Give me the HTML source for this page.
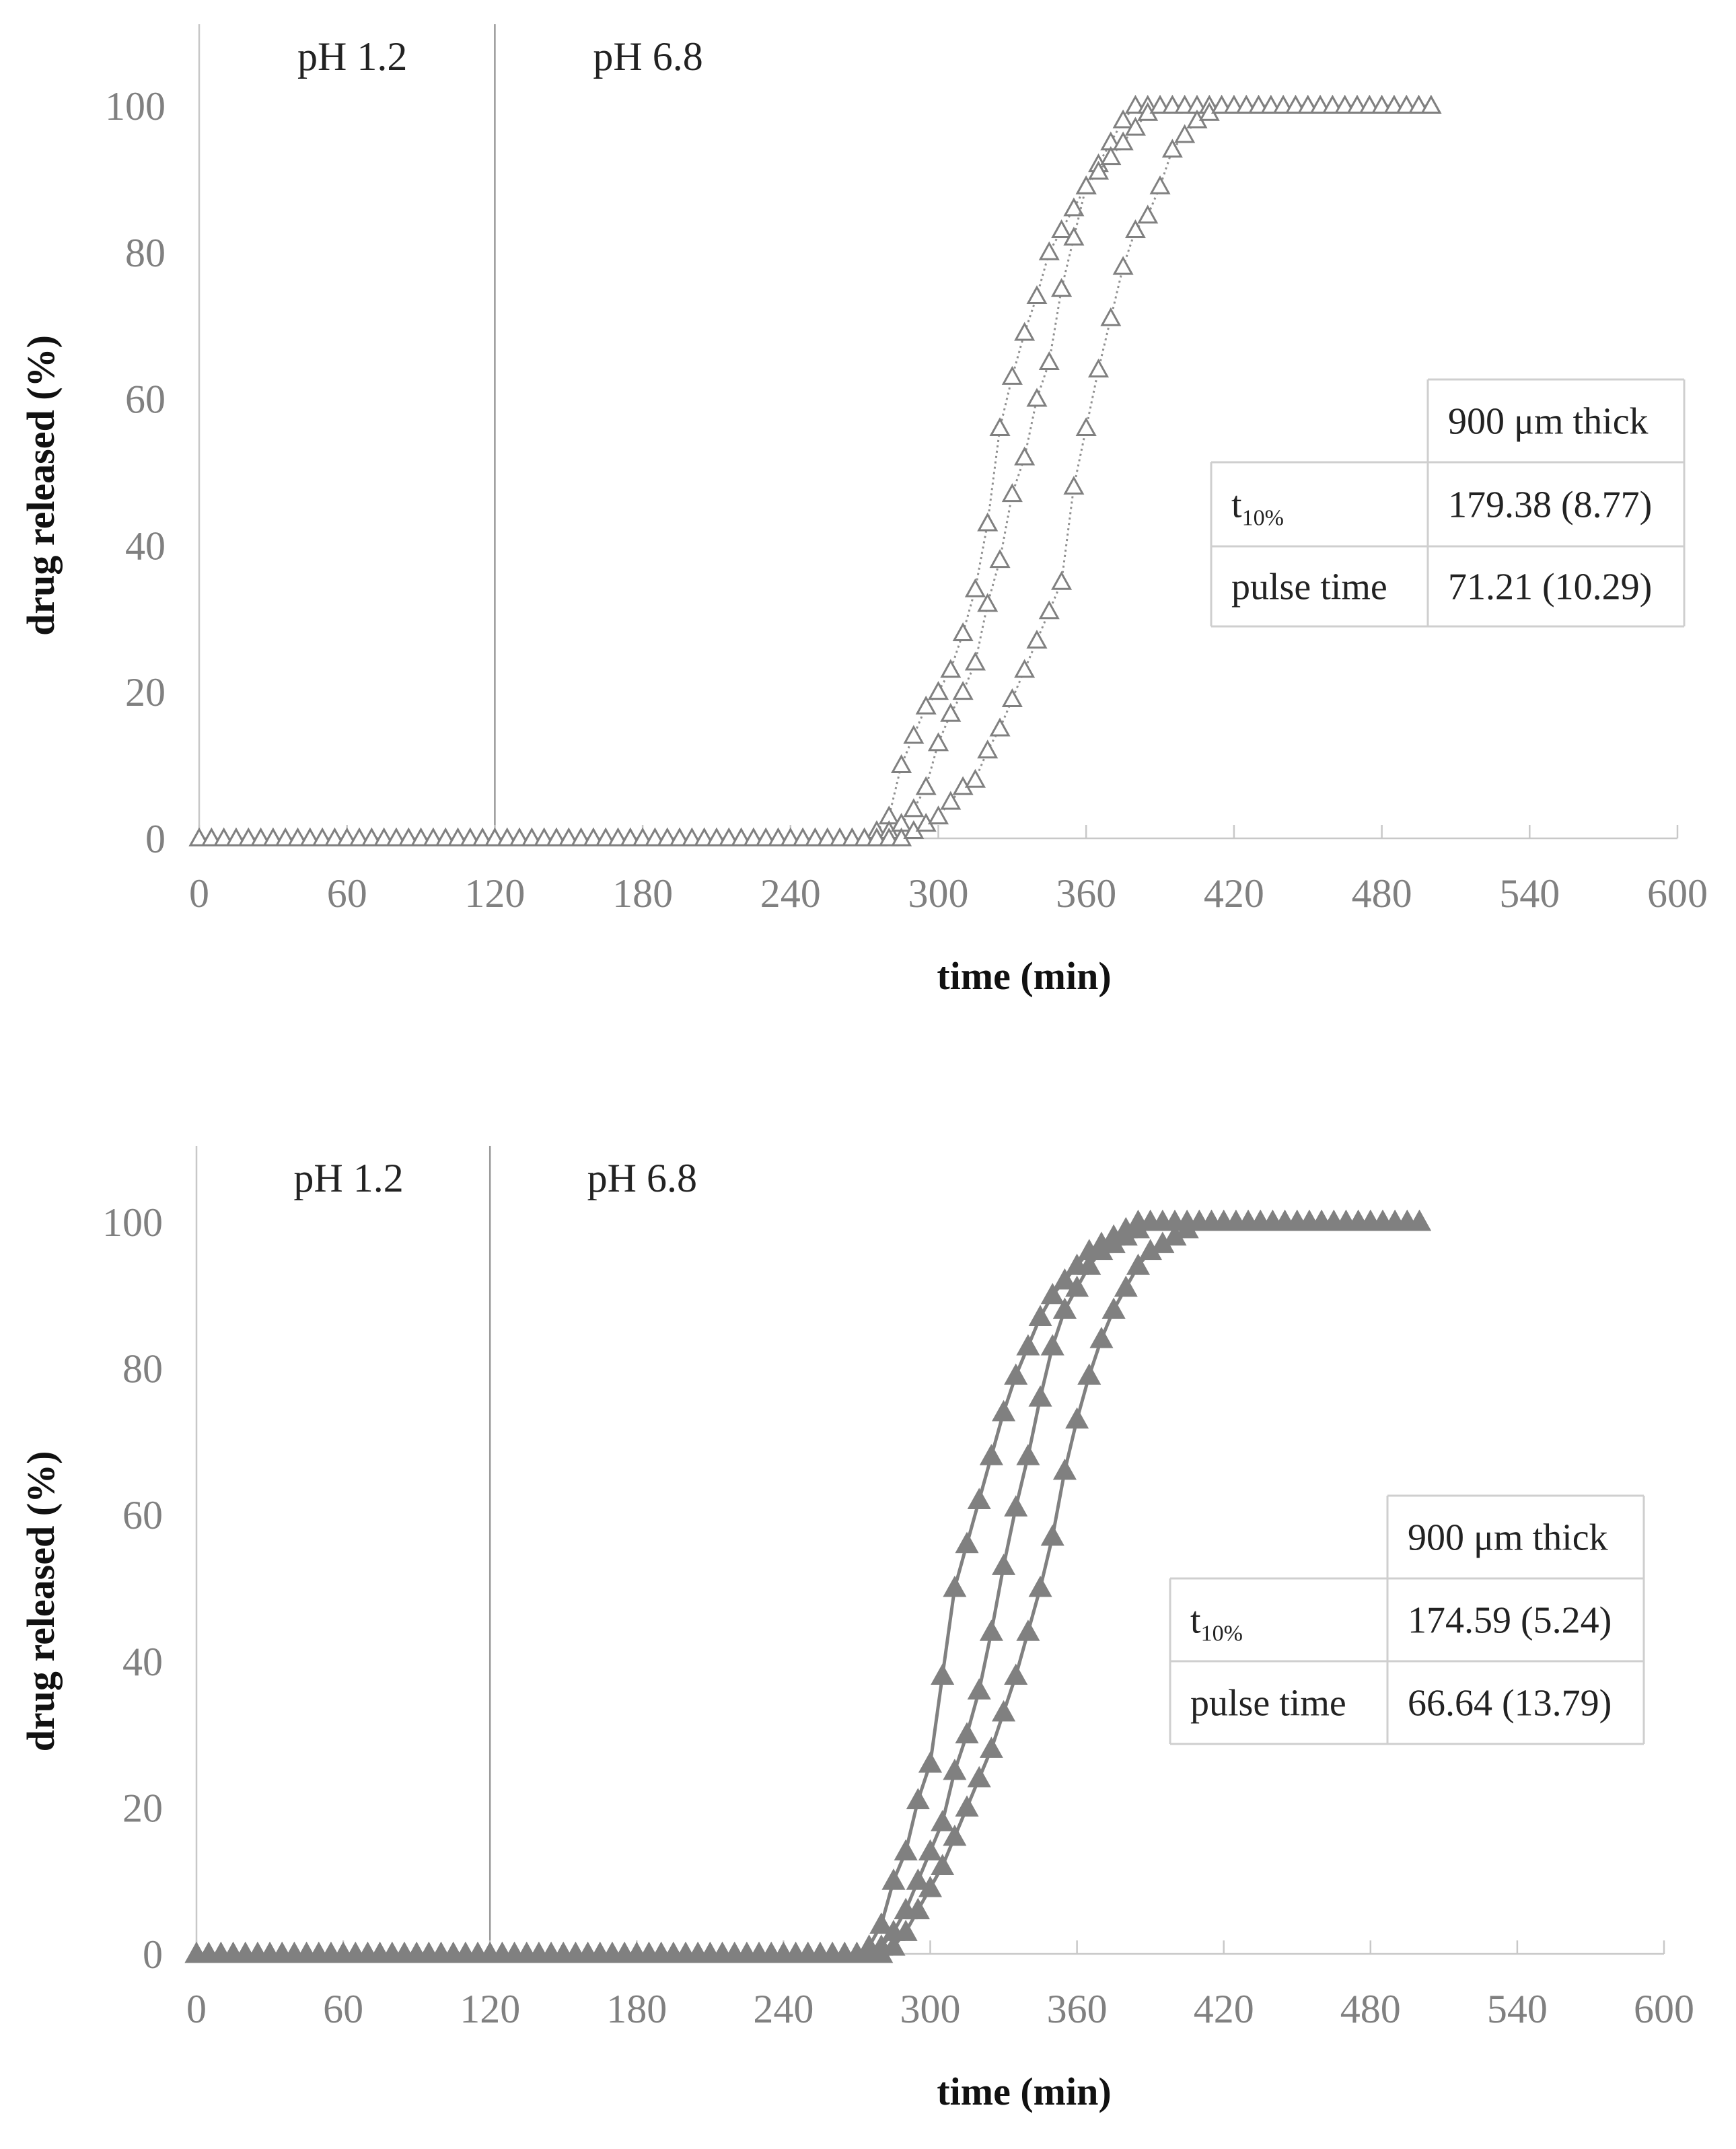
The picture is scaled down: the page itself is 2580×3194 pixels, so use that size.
<!DOCTYPE html>
<html><head><meta charset="utf-8"><style>
html,body{margin:0;padding:0;background:#fff;}
svg text{font-family:"Liberation Serif",serif;}
</style></head><body>
<svg id="svg" width="2580" height="3189" viewBox="0 0 2580 3189" xmlns="http://www.w3.org/2000/svg"></svg>
<script>
const xTicks=[0,60,120,180,240,300,360,420,480,540,600];
const yTicks=[0,20,40,60,80,100];
const topA=[0,0,0,0,0,0,0,0,0,0,0,0,0,0,0,0,0,0,0,0,0,0,0,0,0,0,0,0,0,0,0,0,0,0,0,0,0,0,0,0,0,0,0,0,0,0,0,0,0,0,0,0,0,0,
0,1,3,10,14,18,20,23,28,34,43,56,63,69,74,80,83,86,89,92,95,98,100,
100,100,100,100,100,100,100,100,100,100,100,100,100,100,100,100,100,100,100,100,100,100,100,100];
const topB=[0,0,0,0,0,0,0,0,0,0,0,0,0,0,0,0,0,0,0,0,0,0,0,0,0,0,0,0,0,0,0,0,0,0,0,0,0,0,0,0,0,0,0,0,0,0,0,0,0,0,0,0,0,0,
0,0,1,2,4,7,13,17,20,24,32,38,47,52,60,65,75,82,89,91,93,95,97,99,100,
100,100,100,100,100,100,100,100,100,100,100,100,100,100,100,100,100,100,100,100,100,100];
const topC=[0,0,0,0,0,0,0,0,0,0,0,0,0,0,0,0,0,0,0,0,0,0,0,0,0,0,0,0,0,0,0,0,0,0,0,0,0,0,0,0,0,0,0,0,0,0,0,0,0,0,0,0,0,0,
0,0,0,0,1,2,3,5,7,8,12,15,19,23,27,31,35,48,56,64,71,78,83,85,89,94,96,98,99,100,
100,100,100,100,100,100,100,100,100,100,100,100,100,100,100,100,100];
const botA=[0,0,0,0,0,0,0,0,0,0,0,0,0,0,0,0,0,0,0,0,0,0,0,0,0,0,0,0,0,0,0,0,0,0,0,0,0,0,0,0,0,0,0,0,0,0,0,0,0,0,0,0,0,0,
0,1,4,10,14,21,26,38,50,56,62,68,74,79,83,87,90,92,94,96,97,98,99,100,
100,100,100,100,100,100,100,100,100,100,100,100,100,100,100,100,100,100,100,100,100,100,100];
const botB=[0,0,0,0,0,0,0,0,0,0,0,0,0,0,0,0,0,0,0,0,0,0,0,0,0,0,0,0,0,0,0,0,0,0,0,0,0,0,0,0,0,0,0,0,0,0,0,0,0,0,0,0,0,0,
0,0,1,3,6,10,14,18,25,30,36,44,53,61,68,76,83,88,91,94,96,97,98,99,100,
100,100,100,100,100,100,100,100,100,100,100,100,100,100,100,100,100,100,100,100,100,100];
const botC=[0,0,0,0,0,0,0,0,0,0,0,0,0,0,0,0,0,0,0,0,0,0,0,0,0,0,0,0,0,0,0,0,0,0,0,0,0,0,0,0,0,0,0,0,0,0,0,0,0,0,0,0,0,0,
0,0,0,1,3,6,9,12,16,20,24,28,33,38,44,50,57,66,73,79,84,88,91,94,96,97,98,99,100,
100,100,100,100,100,100,100,100,100,100,100,100,100,100,100,100,100,100];
const timeStep=5;
const NS="http://www.w3.org/2000/svg";
const svg=document.getElementById('svg');
function mk(tag,attrs,parent){const e=document.createElementNS(NS,tag);for(const k in attrs)e.setAttribute(k,attrs[k]);(parent||svg).appendChild(e);return e;}

function chart(cfg){
  const g=mk('g',{});
  
  
  const X=t=>cfg.x0+(cfg.x1-cfg.x0)*t/600;
  const Y=v=>cfg.y0-(cfg.y0-cfg.y100)*v/100;
  const ya=mk('line',{x1:X(0),y1:cfg.top,x2:X(0),y2:Y(0),stroke:'#c8c8c8','stroke-width':2.5},g);
  
  
  const xa=mk('line',{x1:X(0),y1:Y(0),x2:X(600),y2:Y(0),stroke:'#c8c8c8','stroke-width':2.5},g);
  
  
  const ph=mk('line',{x1:X(120),y1:cfg.top,x2:X(120),y2:Y(0),stroke:'#999','stroke-width':2.5},g);
  
  
  xTicks.forEach(t=>{
    const tk=mk('line',{x1:X(t),y1:Y(0),x2:X(t),y2:Y(0)-20,stroke:'#c8c8c8','stroke-width':2.5},g);
    
    
    const tl=mk('text',{x:X(t),y:Y(0)+102,'text-anchor':'middle','font-size':60,fill:'#808080'},g);
    tl.textContent=t;
    
    
  });
  yTicks.forEach(v=>{
    const tl=mk('text',{x:X(0)-50,y:Y(v)+21,'text-anchor':'end','font-size':60,fill:'#808080'},g);
    tl.textContent=v;
    
    
  });
  const p1=mk('text',{x:X(60)+8,y:cfg.top+68,'text-anchor':'middle','font-size':60,fill:'#222'},g);
  p1.textContent='pH 1.2';
  
  
  const p2=mk('text',{x:X(180)+8,y:cfg.top+68,'text-anchor':'middle','font-size':60,fill:'#222'},g);
  p2.textContent='pH 6.8';
  
  
  const xt=mk('text',{x:1522,y:Y(0)+224,'text-anchor':'middle','font-size':58,'font-weight':'bold',fill:'#111'},g);
  xt.textContent='time (min)';
  
  
  const yc=(Y(0)+Y(100))/2+20;
  const yt=mk('text',{x:0,y:0,transform:`translate(80,${yc}) rotate(-90)`,'text-anchor':'middle','font-size':58,'font-weight':'bold',fill:'#111'},g);
  yt.textContent='drug released (%)';
  
  
  cfg.series.forEach((s,si)=>{
    const sg=mk('g',{},g);
    
    
    const pts=s.map((v,i)=>X(i*timeStep)+','+Y(v)).join(' ');
    const pl=mk('polyline',{points:pts,fill:'none',stroke:cfg.filled?'#808080':'#909090','stroke-width':cfg.filled?5:3,'stroke-dasharray':cfg.filled?'none':'3 5'},sg);
    
    
    s.forEach((v,i)=>{
      const cx=X(i*timeStep),cy=Y(v),h=cfg.filled?15:13;
      const tr=mk('polygon',{points:`${cx},${cy-h} ${cx-h},${cy+h*0.8} ${cx+h},${cy+h*0.8}`,fill:cfg.filled?'#808080':'#fff',stroke:'#808080','stroke-width':3},sg);
      
      
    });
  });
  const t=cfg.table;
  const tg=mk('g',{},g);
  
  
  const L=(a,b,c,d)=>{const l=mk('line',{x1:a,y1:b,x2:c,y2:d,stroke:'#cfcfcf','stroke-width':3},tg);};
  L(t.mid,t.r[0],t.right,t.r[0]);L(t.left,t.r[1],t.right,t.r[1]);L(t.left,t.r[2],t.right,t.r[2]);L(t.left,t.r[3],t.right,t.r[3]);
  L(t.left,t.r[1],t.left,t.r[3]);L(t.mid,t.r[0],t.mid,t.r[3]);L(t.right,t.r[0],t.right,t.r[3]);
  const T=(x,y,s,name)=>{const e=mk('text',{x:x,y:y,'font-size':56,fill:'#222'},tg);e.textContent=s;return e;};
  T(t.mid+30,(t.r[0]+t.r[1])/2+19,'900 μm thick','header-thickness');
  const tt=T(t.left+30,(t.r[1]+t.r[2])/2+19,'t','t10-label');
  const sub=mk('tspan',{'font-size':34,dy:12},tt);sub.textContent='10%';
  T(t.mid+30,(t.r[1]+t.r[2])/2+19,t.v1,'t10-value');
  T(t.left+30,(t.r[2]+t.r[3])/2+19,'pulse time','pulse-time-label');
  T(t.mid+30,(t.r[2]+t.r[3])/2+19,t.v2,'pulse-time-value');
}
chart({name:'top-chart',x0:296,x1:2493,y0:1246,y100:157,top:36,filled:false,series:[topA,topB,topC],
  table:{left:1800,mid:2122,right:2503,r:[564,687,812,931],v1:'179.38 (8.77)',v2:'71.21 (10.29)'}});
chart({name:'bottom-chart',x0:292,x1:2473,y0:2904,y100:1816,top:1703,filled:true,series:[botA,botB,botC],
  table:{left:1739,mid:2062,right:2443,r:[2223,2346,2469,2592],v1:'174.59 (5.24)',v2:'66.64 (13.79)'}});
</script>
</body></html>
